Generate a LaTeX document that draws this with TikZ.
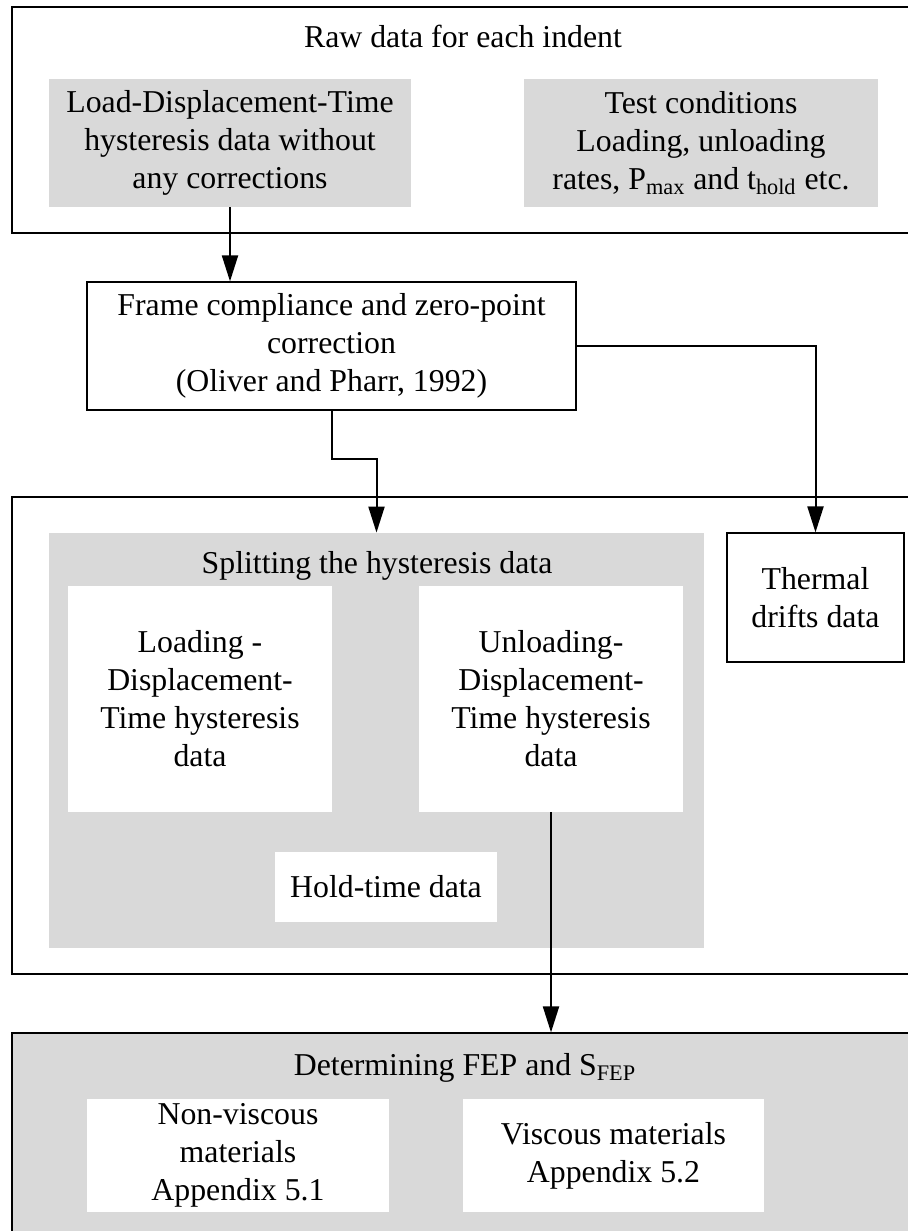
\documentclass[tikz,border=0pt]{standalone}
\usepackage{fontspec}
\setmainfont{Liberation Serif}
\usepackage{tikz}
\usetikzlibrary{arrows.meta}
\definecolor{boxgray}{RGB}{217,217,217}

\tikzset{
    linebox/.style={draw, line width=0.6pt, inner sep=0pt, align=center},
    greybox/.style={fill=boxgray, inner sep=0pt, align=center},
    whitebox/.style={fill=white, inner sep=0pt, align=center},
    flowarrow/.style={-{Triangle[length=13pt, width=8pt]}, line width=1pt}
}

\begin{document}
\begin{tikzpicture}[x=0.5pt, y=-0.5pt, font=\fontsize{15.9}{19}\selectfont]
        \useasboundingbox (0,0) rectangle (908,1231);
        \clip (0,0) rectangle (908,1231);

        \node[linebox, minimum width=450pt, minimum height=113pt] (raw) at (462,120) {};
        \node[anchor=base] (rawlabel) at (463,47) {Raw data for each indent};
        \node[greybox, minimum width=181pt, minimum height=64pt] (ldt) at (230,143) {Load-Displacement-Time\\hysteresis data without\\any corrections};
        \node[greybox, minimum width=177pt, minimum height=64pt] (test) at (701,143) {Test conditions\\Loading, unloading\\rates, P\textsubscript{max} and t\textsubscript{hold} etc.};

        \node[linebox, minimum width=244.5pt, minimum height=64pt] (frame) at (331.5,346) {Frame compliance and zero-point\\correction\\(Oliver and Pharr, 1992)};

        \node[linebox, minimum width=450pt, minimum height=238.5pt] (mid) at (462,735.5) {};
        \node[greybox, minimum width=327.5pt, minimum height=207.5pt] (split) at (376.5,740.5) {};
        \node[anchor=base] (splitlabel) at (377,573) {Splitting the hysteresis data};
        \node[whitebox, minimum width=132pt, minimum height=113pt] (load) at (200,699) {Loading -\\Displacement-\\Time hysteresis\\data};
        \node[whitebox, minimum width=132pt, minimum height=113pt] (unload) at (551,699) {Unloading-\\Displacement-\\Time hysteresis\\data};
        \node[whitebox, minimum width=111pt, minimum height=35pt] (hold) at (386,887) {Hold-time data};
        \node[linebox, fill=white, minimum width=88.5pt, minimum height=64.5pt] (thermal) at (815.5,597.5) {Thermal\\drifts data};

        \node[linebox, fill=boxgray, minimum width=450pt, minimum height=103.5pt] (fep) at (462,1136.5) {};
        \node[anchor=base] (feplabel) at (465,1075) {Determining FEP and S\textsubscript{FEP}};
        \node[whitebox, minimum width=151pt, minimum height=56.5pt] (nonvisc) at (238,1155.5) {Non-viscous\\materials\\Appendix 5.1};
        \node[whitebox, minimum width=150.5pt, minimum height=56.5pt] (visc) at (613.5,1155.5) {Viscous materials\\Appendix 5.2};

        \draw[flowarrow] (ldt.south) -- (ldt.south |- frame.north);
        \draw[flowarrow] (frame.east) -| (thermal.north);
        \draw[flowarrow] (frame.south) -- ++(0,48) -| (split.north);
        \draw[flowarrow] (unload.south) -- (unload.south |- fep.north);
    \end{tikzpicture}
\end{document}
